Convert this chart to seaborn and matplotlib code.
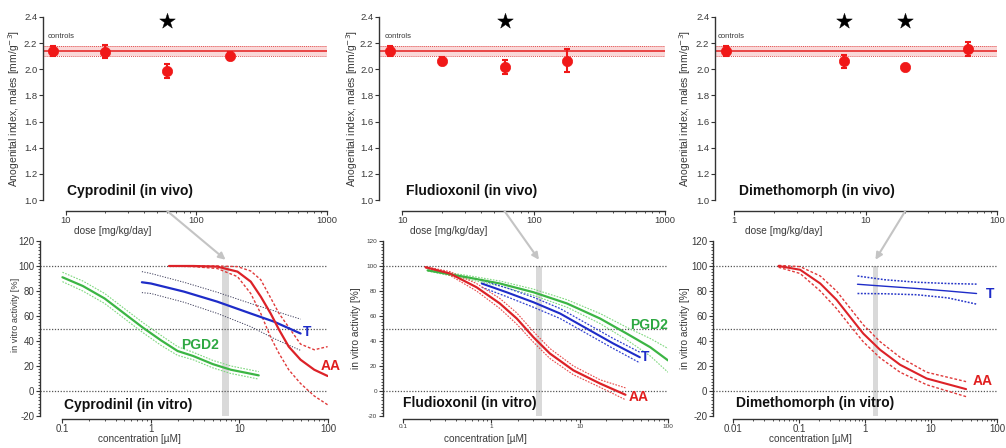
import numpy as np
import pandas as pd
import matplotlib
matplotlib.use("Agg")
import matplotlib.pyplot as plt
import seaborn as sns
from matplotlib.ticker import FixedLocator, FixedFormatter, NullFormatter, MultipleLocator
from matplotlib.patches import ConnectionPatch

sns.set_theme(style="ticks")
plt.rcParams['font.family'] = ['Liberation Sans', 'DejaVu Sans']

# ---------------- data: in vivo (anogenital index) ----------------
compounds = ["Cyprodinil", "Fludioxonil", "Dimethomorph"]

cyp_dose = [8, 20, 60, 180]
cyp_agi = [2.14, 2.135, 1.985, 2.10]
cyp_err = [0.035, 0.05, 0.053, 0.03]
cyp_star = [60]

flu_dose = [8.1, 20, 60, 180]
flu_agi = [2.138, 2.065, 2.017, 2.066]
flu_err = [0.038, 0.03, 0.054, 0.09]
flu_star = [60]

dim_dose = [0.87, 6.8, 20, 60]
dim_agi = [2.138, 2.06, 2.014, 2.156]
dim_err = [0.04, 0.048, 0.02, 0.056]
dim_star = [6.8, 20]

ctrl_mean = [2.14, 2.14, 2.138]
ctrl_lo = [2.10, 2.104, 2.099]
ctrl_hi = [2.176, 2.18, 2.176]

# ---------------- data: in vitro curves ----------------
cyp_aa_c = [1.6, 3, 5.6, 9.5, 13.4, 17.4, 22.5, 28, 36, 49, 70, 99]
cyp_aa = [100, 100, 99.5, 95.5, 87.5, 75.5, 62, 49, 35.5, 25, 17, 12]
cyp_aa_hi = [100, 100, 100, 99.5, 96, 89, 74.5, 62, 51, 37.5, 33, 35.5]
cyp_aa_lo = [100, 99.5, 98, 91.5, 78, 62, 43, 30, 17, 6, -4, -11]

cyp_t_c = [0.79, 1.0, 2.36, 5.6, 13.4, 24.5, 49]
cyp_t = [87, 86, 79.5, 71.5, 62, 55.5, 46]
cyp_t_hi = [95.5, 94, 87, 79, 70, 64.2, 57.5]
cyp_t_lo = [78.7, 78, 71, 62.1, 51.5, 42, 32.5]

cyp_pg_c = [0.1, 0.17, 0.3, 0.5, 0.8, 1.3, 2, 3, 5, 8, 12, 16.5]
cyp_pg = [91, 84, 74, 62, 51, 40.5, 32, 28, 21.5, 17, 14.5, 12.5]
cyp_pg_hi = [95, 88, 78, 66, 55, 44.5, 35.5, 31, 24.5, 20, 17.5, 15.5]
cyp_pg_lo = [87.5, 80, 70, 58, 47, 36.5, 28.5, 25, 18.5, 14, 11.5, 9.5]

flu_aa_c = [0.18, 0.34, 0.68, 1.25, 1.94, 3.0, 4.6, 8.5, 17, 33]
flu_aa = [99, 94, 83, 70, 58, 43, 30, 16.5, 6, -3]
flu_aa_hi = [99.5, 95.5, 86, 74, 62.5, 47.5, 34, 20, 9, 2.5]
flu_aa_lo = [98.5, 92.5, 80, 66, 53.5, 39, 26, 13, 3, -7]

flu_t_c = [0.78, 1.49, 3.0, 6.0, 12, 24, 48]
flu_t = [86, 79, 71, 62, 50, 38, 27]
flu_t_hi = [88.5, 82.5, 75, 66, 54, 42, 31]
flu_t_lo = [83, 75.5, 67, 58, 46, 34, 22.5]

flu_pg_c = [0.19, 0.53, 1.25, 3.0, 7.2, 17, 34, 63, 100]
flu_pg = [96.5, 91, 86, 79, 70, 58, 46, 35, 24.5]
flu_pg_hi = [97, 92.5, 88, 81.5, 73, 62, 51, 42, 34]
flu_pg_lo = [96, 89.5, 84, 76.5, 67, 54, 41, 28, 15]

dim_aa_c = [0.049, 0.104, 0.21, 0.37, 0.59, 0.94, 1.69, 3.4, 8.6, 34]
dim_aa = [100, 97, 86, 73, 59.5, 46, 33, 21, 10, 1.5]
dim_aa_hi = [100.5, 99.5, 92, 80, 66.5, 53, 39.5, 27, 15, 7.5]
dim_aa_lo = [99, 94, 80, 66, 52.5, 39.4, 26.5, 15, 5, -4.5]

dim_t_c = [0.77, 2, 6.1, 18, 49]
dim_t = [85.4, 83.8, 82, 80, 78]
dim_t_hi = [92, 89, 87, 86, 85.5]
dim_t_lo = [78, 77.8, 77, 74.5, 69.5]

# in-vivo dose linked to in-vitro concentration (grey band)
arrow_dose = [60, 60, 20]
band_lo = [6.3, 3.2, 1.32]
band_hi = [7.7, 3.75, 1.57]

# ---------------- style ----------------
RED_PT = '#f01818'
RED = '#dc2228'
BLUE = '#1e2cc8'
GREEN = '#3cb544'
GREEN_B = '#7fd87f'
GRID = '#555555'
AXC = '#333333'
TXT = '#3a3a3a'

W, H = 1006, 448
fig = plt.figure(figsize=(W / 100, H / 100), dpi=100)


def rect(l, r, t, b):
    return [l / W, 1 - b / H, (r - l) / W, (b - t) / H]


def log_minors(lo, hi):
    out = []
    e = int(np.floor(np.log10(lo)))
    while 10 ** e <= hi:
        for m in range(2, 10):
            v = m * 10 ** e
            if lo < v < hi:
                out.append(v)
        e += 1
    return out


def style_axis(ax, xb, yb, xoff, xticks, xlabels, tick_fs):
    ax.set_xscale('log')
    for s in ['top', 'right']:
        ax.spines[s].set_visible(False)
    for s in ['left', 'bottom']:
        ax.spines[s].set_color(AXC)
        ax.spines[s].set_linewidth(1.0)
    ax.spines['bottom'].set_position(('outward', xoff))
    ax.spines['bottom'].set_bounds(*xb)
    ax.spines['left'].set_bounds(*yb)
    ax.xaxis.set_major_locator(FixedLocator(xticks))
    ax.xaxis.set_major_formatter(FixedFormatter(xlabels))
    ax.xaxis.set_minor_locator(FixedLocator(log_minors(*xb)))
    ax.xaxis.set_minor_formatter(NullFormatter())
    ax.tick_params(which='major', direction='out', length=2.6, width=0.8, color=AXC,
                   labelsize=tick_fs, labelcolor=TXT, pad=1.5)
    ax.tick_params(axis='x', which='major', pad=0.8)
    ax.tick_params(which='minor', direction='out', length=1.6, width=0.6, color=AXC)
    ax.grid(False)
    ax.set_facecolor('none')


# ---------------- top panels (in vivo) ----------------
top_rects = [rect(43, 327, 17, 200), rect(379, 665, 17, 200), rect(715, 997, 17, 200)]
top_xlim = [(6.7, 1000), (6.64, 1000), (0.712, 100)]
top_xb = [(10, 1000), (10, 1000), (1, 100)]
top_ticks = [([10, 100, 1000], ["10", "100", "1000"]),
             ([10, 100, 1000], ["10", "100", "1000"]),
             ([1, 10, 100], ["1", "10", "100"])]
top_data = [(cyp_dose, cyp_agi, cyp_err, cyp_star),
            (flu_dose, flu_agi, flu_err, flu_star),
            (dim_dose, dim_agi, dim_err, dim_star)]
top_ylab_x = [-0.074, -0.066, -0.078]
top_title_x = [0.085, 0.094, 0.085]
ctrl_x = [0.018, 0.021, 0.011]

top_axes = []
for i in range(3):
    ax = fig.add_axes(top_rects[i])
    top_axes.append(ax)
    style_axis(ax, top_xb[i], (1.0, 2.4), 8, top_ticks[i][0], top_ticks[i][1], 6.8)
    ax.set_xlim(*top_xlim[i])
    ax.set_ylim(1.0, 2.4)
    yt = np.round(np.arange(1.0, 2.41, 0.2), 1)
    ax.yaxis.set_major_locator(FixedLocator(yt))
    ax.yaxis.set_major_formatter(FixedFormatter([f"{v:.1f}" for v in yt]))

    # control band
    ax.axhspan(ctrl_lo[i], ctrl_hi[i], color='#f7b9b9', alpha=0.55, lw=0, zorder=1)
    ax.axhline(ctrl_mean[i], color='#e83a3a', lw=1.3, zorder=2)
    ax.axhline(ctrl_lo[i], color='#e05050', lw=0.7, ls=(0, (1, 1)), zorder=2)
    ax.axhline(ctrl_hi[i], color='#e05050', lw=0.7, ls=(0, (1, 1)), zorder=2)

    dose, agi, err, star = top_data[i]
    ax.errorbar(dose, agi, yerr=err, fmt='none', ecolor=RED_PT, elinewidth=1.5,
                capsize=2.3, capthick=1.5, zorder=3)
    sns.scatterplot(x=dose, y=agi, ax=ax, color=RED_PT, s=55, edgecolor=RED_PT,
                    linewidth=0.5, zorder=4, legend=False)
    sns.scatterplot(x=star, y=[2.37] * len(star), ax=ax, marker='*', color='black',
                    s=140, edgecolor='black', linewidth=0.3, zorder=4, legend=False,
                    clip_on=False)

    ax.text(ctrl_x[i], 0.896, "controls", transform=ax.transAxes, fontsize=5.5,
            color=TXT, va='center', ha='left')
    ax.text(top_title_x[i], 0.05, f"{compounds[i]} (in vivo)", transform=ax.transAxes,
            fontsize=10, fontweight='bold', color='#111111', va='center', ha='left')
    ax.set_ylabel("Anogenital index, males [mm/g$^{-3}$]", fontsize=7.5, color=TXT)
    ax.yaxis.set_label_coords(top_ylab_x[i], 0.5)
    ax.set_xlabel("dose [mg/kg/day]", fontsize=7.3, color=TXT)
    ax.xaxis.set_label_coords(0.245, -0.14)

# ---------------- bottom panels (in vitro) ----------------
bot_rects = [rect(40, 328, 241, 416), rect(383, 668, 241, 416), rect(713, 997, 241, 416)]
bot_xlim = [(0.0558, 100), (0.0594, 100), (0.00498, 100)]
bot_xb = [(0.1, 100), (0.1, 100), (0.01, 100)]
bot_ticks = [([0.1, 1, 10, 100], ["0.1", "1", "10", "100"]),
             ([0.1, 1, 10, 100], ["0.1", "1", "10", "100"]),
             ([0.01, 0.1, 1, 10, 100], ["0.01", "0.1", "1", "10", "100"])]
bot_tick_fs = [7.0, 4.6, 7.0]
bot_ylab_fs = [6.6, 7.3, 7.3]
bot_ylab = [(-0.069, 0.58), (-0.077, 0.5), (-0.081, 0.5)]
bot_xlab_x = [0.347, 0.361, 0.342]
bot_title = [(0.083, 0.063), (0.07, 0.074), (0.081, 0.074)]

curves = [
    [  # Cyprodinil
        dict(c=cyp_pg_c, y=cyp_pg, hi=cyp_pg_hi, lo=cyp_pg_lo, col=GREEN, bcol=GREEN_B, lw=1.6, bls=(0, (1.5, 1.2)), blw=0.8),
        dict(c=cyp_t_c, y=cyp_t, hi=cyp_t_hi, lo=cyp_t_lo, col=BLUE, bcol='#3c3c5a', lw=1.6, bls=(0, (1.2, 1.5)), blw=0.7),
        dict(c=cyp_aa_c, y=cyp_aa, hi=cyp_aa_hi, lo=cyp_aa_lo, col=RED, bcol='#e03a3a', lw=1.6, bls=(0, (2, 1.4)), blw=1.0),
    ],
    [  # Fludioxonil
        dict(c=flu_pg_c, y=flu_pg, hi=flu_pg_hi, lo=flu_pg_lo, col=GREEN, bcol=GREEN_B, lw=1.6, bls=(0, (1.5, 1.2)), blw=0.8),
        dict(c=flu_t_c, y=flu_t, hi=flu_t_hi, lo=flu_t_lo, col=BLUE, bcol='#3040d0', lw=1.5, bls=(0, (1.5, 1.2)), blw=0.9),
        dict(c=flu_aa_c, y=flu_aa, hi=flu_aa_hi, lo=flu_aa_lo, col=RED, bcol='#e84a4a', lw=1.6, bls=(0, (1.5, 1.2)), blw=0.8),
    ],
    [  # Dimethomorph
        dict(c=dim_t_c, y=dim_t, hi=dim_t_hi, lo=dim_t_lo, col=BLUE, bcol='#2636c8', lw=1.0, bls=(0, (1.2, 1.0)), blw=1.1),
        dict(c=dim_aa_c, y=dim_aa, hi=dim_aa_hi, lo=dim_aa_lo, col=RED, bcol='#e03a3a', lw=1.5, bls=(0, (2, 1.4)), blw=1.0),
    ],
]

labels = [
    [("PGD2", 3.55, 37, '#2ea842'), ("T", 57.5, 47, BLUE), ("AA", 107, 20, '#e01e1e')],
    [("PGD2", 61, 52.6, '#2ea842'), ("T", 55, 27, BLUE), ("AA", 46, -5, '#e01e1e')],
    [("T", 78, 78, BLUE), ("AA", 61, 8, '#e01e1e')],
]

bot_axes = []
for i in range(3):
    ax = fig.add_axes(bot_rects[i])
    bot_axes.append(ax)
    style_axis(ax, bot_xb[i], (-20, 120), 2, bot_ticks[i][0], bot_ticks[i][1], bot_tick_fs[i])
    ax.set_xlim(*bot_xlim[i])
    ax.set_ylim(-20, 120)
    yt = list(range(-20, 121, 20))
    ax.yaxis.set_major_locator(FixedLocator(yt))
    ax.yaxis.set_major_formatter(FixedFormatter([str(v) for v in yt]))
    ax.yaxis.set_minor_locator(MultipleLocator(2.5))
    ax.tick_params(axis='y', which='minor', length=1.6, width=0.6)

    for ref in (100, 50, 0):
        ax.axhline(ref, color=GRID, lw=0.9, ls=(0, (1, 1.3)), zorder=1)

    # grey band linking in vivo dose to in vitro concentration
    ax.fill_between([band_lo[i], band_hi[i]], -20, 100, color='#d9d9d9', lw=0, zorder=0.5)

    for cv in curves[i]:
        for key in ('hi', 'lo'):
            sns.lineplot(x=cv['c'], y=cv[key], ax=ax, color=cv['bcol'], lw=cv['blw'],
                         linestyle=cv['bls'], estimator=None, sort=False, zorder=2)
        sns.lineplot(x=cv['c'], y=cv['y'], ax=ax, color=cv['col'], lw=cv['lw'],
                     estimator=None, sort=False, zorder=3)

    for txt, xx, yy, col in labels[i]:
        ax.text(xx, yy, txt, color=col, fontsize=10, fontweight='bold',
                ha='center', va='center', clip_on=False)

    tx, ty = bot_title[i]
    ax.text(tx, ty, f"{compounds[i]} (in vitro)", transform=ax.transAxes, fontsize=10,
            fontweight='bold', color='#111111', va='center', ha='left')
    ax.set_ylabel("in vitro activity [%]", fontsize=bot_ylab_fs[i], color=TXT)
    ax.yaxis.set_label_coords(*bot_ylab[i])
    ax.set_xlabel("concentration [\u00b5M]", fontsize=7.2, color=TXT)
    ax.xaxis.set_label_coords(bot_xlab_x[i], -0.102)

# arrows from in vivo dose to in vitro band
for i in range(3):
    bc = np.sqrt(band_lo[i] * band_hi[i])
    con = ConnectionPatch(xyA=(arrow_dose[i], 0.915), coordsA=top_axes[i].transData,
                          xyB=(bc, 105), coordsB=bot_axes[i].transData,
                          arrowstyle='-|>', color='#c4c4c4', lw=1.5, mutation_scale=10,
                          zorder=5)
    fig.add_artist(con)

fig.savefig("out.png", dpi=100)
